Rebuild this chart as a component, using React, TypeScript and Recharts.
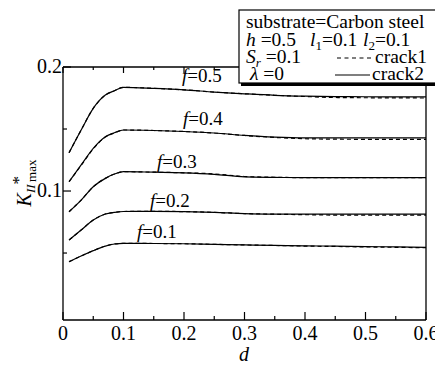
import { Line, LineChart, XAxis, YAxis } from 'recharts';

// distance d (x axis)
const dValues = [0.01, 0.03, 0.05, 0.07, 0.085, 0.1, 0.15, 0.2, 0.25, 0.3, 0.35, 0.4, 0.45, 0.5, 0.55, 0.6];

// crack2 (solid)
const crack2F05 = [0.1309, 0.1492, 0.1667, 0.1774, 0.1809, 0.1836, 0.1828, 0.1816, 0.1798, 0.1784, 0.1772, 0.1765, 0.1761, 0.176, 0.1759, 0.1759];
const crack2F04 = [0.1075, 0.121, 0.1344, 0.1438, 0.147, 0.1492, 0.1488, 0.148, 0.1468, 0.1448, 0.1434, 0.1428, 0.1428, 0.1428, 0.1428, 0.1428];
const crack2F03 = [0.0833, 0.0927, 0.1035, 0.1102, 0.1137, 0.1156, 0.1152, 0.1147, 0.1135, 0.1114, 0.111, 0.1108, 0.1108, 0.1108, 0.1108, 0.1108];
const crack2F02 = [0.0605, 0.0685, 0.0766, 0.0815, 0.0828, 0.0835, 0.0836, 0.0834, 0.0828, 0.0818, 0.0814, 0.0813, 0.0813, 0.0813, 0.0813, 0.0813];
const crack2F01 = [0.043, 0.0476, 0.0519, 0.0556, 0.0573, 0.0578, 0.0577, 0.0575, 0.057, 0.0565, 0.0561, 0.0558, 0.0555, 0.0552, 0.0549, 0.0546];

// crack1 (dashed)
const crack1F05 = [0.1309, 0.1492, 0.1667, 0.1774, 0.1809, 0.1836, 0.1828, 0.1816, 0.1798, 0.1784, 0.1772, 0.1762, 0.1754, 0.1752, 0.1751, 0.175];
const crack1F04 = [0.1075, 0.1207, 0.134, 0.1435, 0.1468, 0.1492, 0.1488, 0.148, 0.1468, 0.1448, 0.1432, 0.1422, 0.1418, 0.1417, 0.1417, 0.1417];
const crack1F03 = [0.0833, 0.0927, 0.1035, 0.1102, 0.1137, 0.1156, 0.1152, 0.1147, 0.1138, 0.1117, 0.1111, 0.1108, 0.1108, 0.1108, 0.1108, 0.1108];
const crack1F02 = [0.0605, 0.0685, 0.0766, 0.0815, 0.0828, 0.0835, 0.0836, 0.0834, 0.0828, 0.0818, 0.0813, 0.0809, 0.0806, 0.0805, 0.0805, 0.0805];
const crack1F01 = [0.043, 0.0476, 0.0519, 0.0556, 0.0573, 0.0578, 0.0577, 0.0575, 0.057, 0.0565, 0.0561, 0.0556, 0.0553, 0.0549, 0.0546, 0.0543];

const xTicks = [0, 0.05, 0.1, 0.15, 0.2, 0.25, 0.3, 0.35, 0.4, 0.45, 0.5, 0.55, 0.6];
const yTicks = [0.05, 0.1, 0.15, 0.2];
const yLabelled = [0.1, 0.2];

const fLabels = ['f=0.5', 'f=0.4', 'f=0.3', 'f=0.2', 'f=0.1'];

const data = dValues.map((d, i) => ({
  d,
  c2f05: crack2F05[i],
  c2f04: crack2F04[i],
  c2f03: crack2F03[i],
  c2f02: crack2F02[i],
  c2f01: crack2F01[i],
  c1f05: crack1F05[i],
  c1f04: crack1F04[i],
  c1f03: crack1F03[i],
  c1f02: crack1F02[i],
  c1f01: crack1F01[i],
}));

const FONT = '"Liberation Serif", "Times New Roman", serif';

const isMajor = (v: number) => Math.abs(v * 10 - Math.round(v * 10)) < 1e-6;

function BottomTick({ x, y, payload }: any) {
  const v = payload.value;
  const major = isMajor(v);
  return (
    <g>
      <line x1={x} y1={y} x2={x} y2={y - (major ? 8 : 4)} stroke="#000" strokeWidth={1.2} />
      {major && (
        <text x={x} y={y + 20} textAnchor="middle" fontSize={20} fontFamily={FONT} fill="#000">
          {v === 0 ? '0' : v.toFixed(1)}
        </text>
      )}
    </g>
  );
}

function TopTick({ x, y, payload }: any) {
  const major = isMajor(payload.value);
  return <line x1={x} y1={y} x2={x} y2={y + (major ? 6 : 3)} stroke="#000" strokeWidth={1.2} />;
}

function LeftTick({ x, y, payload }: any) {
  const v = payload.value;
  const major = isMajor(v);
  return (
    <g>
      <line x1={x} y1={y} x2={x + (major ? 8 : 4)} y2={y} stroke="#000" strokeWidth={1.2} />
      {yLabelled.some((l) => Math.abs(l - v) < 1e-6) && (
        <text x={x - 1} y={y + 6} textAnchor="end" fontSize={20} fontFamily={FONT} fill="#000">
          {v.toFixed(1)}
        </text>
      )}
    </g>
  );
}

function RightTick({ x, y, payload }: any) {
  const major = isMajor(payload.value);
  return <line x1={x} y1={y} x2={x - (major ? 8 : 4)} y2={y} stroke="#000" strokeWidth={1.2} />;
}

const seriesKeys = ['f05', 'f04', 'f03', 'f02', 'f01'];

export default function App() {
  return (
    <div style={{ position: 'fixed', left: 0, top: 0, width: 435, height: 365, background: '#fff', overflow: 'hidden' }}>
      <LineChart width={435} height={365} data={data} margin={{ top: 66, right: 8, bottom: 0, left: 0 }}>
        <XAxis
          xAxisId="b"
          type="number"
          dataKey="d"
          domain={[0, 0.6]}
          ticks={xTicks}
          interval={0}
          height={45}
          tickSize={0}
          tickMargin={0}
          tickLine={false}
          axisLine={{ stroke: '#000', strokeWidth: 1.3 }}
          tick={<BottomTick />}
        />
        <XAxis
          xAxisId="t"
          orientation="top"
          type="number"
          dataKey="d"
          domain={[0, 0.6]}
          ticks={xTicks}
          interval={0}
          height={1}
          tickSize={0}
          tickMargin={0}
          tickLine={false}
          axisLine={{ stroke: '#000', strokeWidth: 1.3 }}
          tick={<TopTick />}
        />
        <YAxis
          yAxisId="l"
          type="number"
          domain={[-0.004, 0.2]}
          ticks={yTicks}
          interval={0}
          width={63}
          tickSize={0}
          tickMargin={0}
          tickLine={false}
          axisLine={{ stroke: '#000', strokeWidth: 1.3 }}
          tick={<LeftTick />}
        />
        <YAxis
          yAxisId="r"
          orientation="right"
          type="number"
          domain={[-0.004, 0.2]}
          ticks={yTicks}
          interval={0}
          width={1}
          tickSize={0}
          tickMargin={0}
          tickLine={false}
          axisLine={{ stroke: '#000', strokeWidth: 1.3 }}
          tick={<RightTick />}
        />
        {seriesKeys.map((k) => (
          <Line
            key={'c1' + k}
            xAxisId="b"
            yAxisId="l"
            type="monotone"
            dataKey={'c1' + k}
            stroke="#000"
            strokeWidth={1.2}
            strokeDasharray="4 3"
            dot={false}
            isAnimationActive={false}
          />
        ))}
        {seriesKeys.map((k) => (
          <Line
            key={'c2' + k}
            xAxisId="b"
            yAxisId="l"
            type="monotone"
            dataKey={'c2' + k}
            stroke="#000"
            strokeWidth={1.2}
            dot={false}
            isAnimationActive={false}
          />
        ))}
      </LineChart>

      <svg width={435} height={365} style={{ position: 'absolute', left: 0, top: 0, pointerEvents: 'none' }} fontFamily={FONT} fill="#000">
        {/* curve labels */}
        {[
          [182, 82],
          [183, 125],
          [157, 168],
          [150, 207],
          [137, 238],
        ].map(([x, y], i) => (
          <text key={fLabels[i]} x={x} y={y} fontSize={19}>
            <tspan fontStyle="italic">f</tspan>
            {fLabels[i].slice(1)}
          </text>
        ))}

        {/* y axis title */}
        <text transform="translate(31,183) rotate(-90)" textAnchor="middle" fontSize={20}>
          <tspan fontStyle="italic">K</tspan>
          <tspan fontStyle="italic" fontSize={13} dy={4}>II</tspan>
          <tspan fontSize={17} dy={-11}>*</tspan>
          <tspan fontSize={13} dx={-6} dy={12}>max</tspan>
        </text>

        {/* x axis title */}
        <text x={244} y={361} textAnchor="middle" fontSize={20} fontStyle="italic">d</text>

        {/* legend */}
        <rect x={239} y={10} width={200} height={73} fill="#fff" stroke="#000" strokeWidth={1.2} />
        <line x1={241} y1={84.5} x2={435} y2={84.5} stroke="#000" strokeWidth={3} />
        <text x={246} y={28} fontSize={19.5}>substrate=Carbon steel</text>
        <text x={246} y={45.5} fontSize={19.5}>
          <tspan fontStyle="italic">h</tspan> =0.5
        </text>
        <text x={310} y={45.5} fontSize={19.5}>
          <tspan fontStyle="italic">l</tspan>
          <tspan fontSize={13} dy={4}>1</tspan>
          <tspan dy={-4}>=0.1</tspan>
        </text>
        <text x={363} y={45.5} fontSize={19.5}>
          <tspan fontStyle="italic">l</tspan>
          <tspan fontSize={13} dy={4}>2</tspan>
          <tspan dy={-4}>=0.1</tspan>
        </text>
        <text x={246} y={63} fontSize={19.5}>
          <tspan fontStyle="italic">S</tspan>
          <tspan fontStyle="italic" fontSize={13} dy={4}>r</tspan>
          <tspan dy={-4}> =0.1</tspan>
        </text>
        <line x1={337} y1={58} x2={374} y2={58} stroke="#000" strokeWidth={1.2} strokeDasharray="4 3.5" />
        <text x={375} y={63} fontSize={19.5}>crack1</text>
        <text x={250} y={80} fontSize={19.5}>
          <tspan fontStyle="italic">λ</tspan> =0
        </text>
        <line x1={335} y1={75} x2={370} y2={75} stroke="#000" strokeWidth={1.2} />
        <text x={372} y={80} fontSize={19.5}>crack2</text>
      </svg>
    </div>
  );
}
